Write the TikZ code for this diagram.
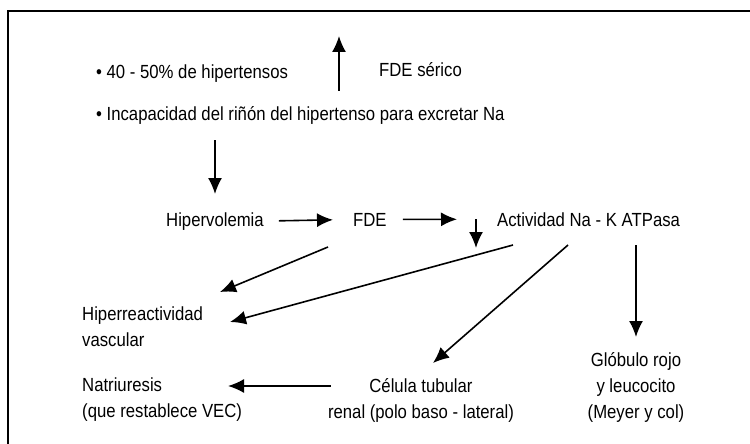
\documentclass[tikz,border=0pt]{standalone}
\usepackage{fontspec}
\setmainfont{Liberation Sans}[FakeStretch=0.88]
\usetikzlibrary{arrows.meta}
\tikzset{
	txt/.style={inner sep=0pt,font=\fontsize{19}{26}\selectfont},
	flecha/.style={line width=1.6pt,-{Latex[length=16pt,width=14pt]}},
}
\begin{document}
\begin{tikzpicture}[x=1pt,y=-1pt]
		\useasboundingbox (0,0) rectangle (750,444) ;
		\draw[line width=2.2pt] (8,444)--(8,11)--(750,11) ;
		% texto de arriba
		\node[txt,anchor=base west] (pct) at (96,78) {\textbullet\ 40 - 50\% de hipertensos} ;
		\node[txt,anchor=base west] (fdes) at (379,77) {FDE sérico} ;
		\node[txt,anchor=base west] (incap) at (96,121) {\textbullet\ Incapacidad del riñón del hipertenso para excretar Na} ;
		\coordinate (sube0) at (339,91) ; \coordinate (sube1) at (339,36) ;
		\draw[flecha] (sube0)--(sube1) ;
		% fila central
		\node[txt,anchor=base west] (hiper) at (166,226) {Hipervolemia} ;
		\node[txt,anchor=base west] (fde) at (353,226) {FDE} ;
		\node[txt,anchor=base west] (act) at (497,226) {Actividad Na - K ATPasa} ;
		\draw[flecha] ([shift={(119,19)}]incap.base west)--([shift={(49,-32)}]hiper.base west) ;
		\draw[flecha,shorten <=15pt,shorten >=20pt] (hiper.east)--(fde.west) ;
		\draw[flecha,shorten <=16pt,shorten >=40pt] (fde.east)--(act.west) ;
		\coordinate (baja0) at (476,219) ; \coordinate (baja1) at (476,248) ;
		\draw[flecha] (baja0)--(baja1) ;
		% abajo
		\node[txt,anchor=north west,align=left] (hr) at (82,307) {Hiperreactividad\\vascular} ;
		\node[txt,anchor=north west,align=left] (nat) at (82,378) {Natriuresis\\(que restablece VEC)} ;
		\node[txt,anchor=north,align=center] (cel) at (421,378) {Célula tubular\\renal (polo baso - lateral)} ;
		\node[txt,anchor=north,align=center] (glob) at (636,352) {Glóbulo rojo\\y leucocito\\(Meyer y col)} ;
		\draw[flecha] ([shift={(-25,21)}]fde.base west)--([shift={(138,-15)}]hr.north west) ;
		\draw[flecha] ([shift={(16,19)}]act.base west)--([shift={(148,15)}]hr.north west) ;
		\draw[flecha] ([shift={(71,19)}]act.base west)--([shift={(12,-15)}]cel.north) ;
		\draw[flecha] ([yshift=-19pt]glob.north |- act.base)--([yshift=15pt]glob.north) ;
		\draw[flecha] ([shift={(3,8)}]cel.north west)--([shift={(146,8)}]nat.north west) ;
	\end{tikzpicture}
\end{document}
